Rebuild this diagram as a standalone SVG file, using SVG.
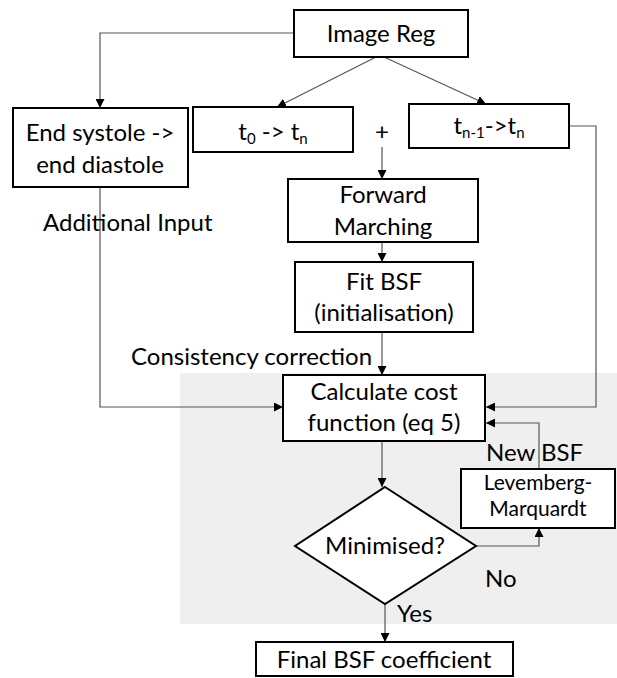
<svg xmlns="http://www.w3.org/2000/svg" width="617" height="678" viewBox="0 0 617 678">
<defs>
<marker id="ah" viewBox="0 0 10 10" refX="10" refY="5" markerWidth="9" markerHeight="9" markerUnits="userSpaceOnUse" orient="auto">
<path d="M0,0 L10,5 L0,10 z" fill="#000"/>
</marker>
</defs>
<style>
.box{fill:#fff;stroke:#000;stroke-width:2}
.t{font-family:Lato,"Open Sans","Liberation Sans",sans-serif;font-size:24px;fill:#000;text-anchor:middle}
.tl{font-family:Lato,"Open Sans","Liberation Sans",sans-serif;font-size:24px;fill:#000}
.c{fill:none;stroke:#555;stroke-width:1.2}
.ca{fill:none;stroke:#555;stroke-width:1.2;marker-end:url(#ah)}
</style>
<rect x="180" y="373" width="437" height="251" fill="#efefef"/>
<g id="connectors">
<polyline class="ca" points="294,33 100,33 100,108"/>
<line class="ca" x1="376" y1="57" x2="277" y2="107"/>
<line class="ca" x1="384" y1="57" x2="486" y2="104"/>
<line class="ca" x1="382" y1="147" x2="382" y2="179"/>
<polyline class="ca" points="569,126 596,126 596,407 486,407"/>
<polyline class="ca" points="100,187 100,407 283,407"/>
<line class="ca" x1="382" y1="242" x2="382" y2="262"/>
<line class="ca" x1="382" y1="332" x2="382" y2="375"/>
<polyline class="ca" points="539,469 539,423 486,423"/>
<line class="ca" x1="382" y1="441" x2="382" y2="487"/>
<polyline class="ca" points="476,546 539,546 539,528"/>
<line class="ca" x1="385" y1="604" x2="385" y2="642"/>
<text class="tl" x="43" y="231">Additional Input</text>
<text class="tl" x="131" y="365">Consistency correction</text>
<text class="tl" x="486" y="461">New</text>
<text class="tl" x="541" y="461">BSF</text>
<text class="tl" x="485" y="587">No</text>
<text class="tl" x="397" y="622">Yes</text>
<text class="t" x="382" y="140">+</text>
</g>
<g id="image-reg">
<rect class="box" x="294" y="10" width="174" height="47"/>
<text class="t" x="381" y="42">Image Reg</text>
</g>
<g id="end-systole">
<rect class="box" x="13" y="108" width="175" height="79"/>
<text class="t" x="100" y="141">End systole -&gt;</text>
<text class="t" x="100" y="173">end diastole</text>
</g>
<g id="t0-tn">
<rect class="box" x="193" y="107" width="160" height="45"/>
<text class="t" x="273" y="140">t<tspan font-size="15" dy="4">0</tspan><tspan dy="-4"> -&gt; t</tspan><tspan font-size="15" dy="4">n</tspan></text>
</g>
<g id="tn1-tn">
<rect class="box" x="409" y="104" width="160" height="44"/>
<text class="t" x="489" y="134">t<tspan font-size="15" dy="4">n-1</tspan><tspan dy="-4">-&gt;t</tspan><tspan font-size="15" dy="4">n</tspan></text>
</g>
<g id="forward-marching">
<rect class="box" x="288" y="179" width="190" height="63"/>
<text class="t" x="383" y="203">Forward</text>
<text class="t" x="383" y="235">Marching</text>
</g>
<g id="fit-bsf">
<rect class="box" x="295" y="262" width="178" height="70"/>
<text class="t" x="384" y="290">Fit BSF</text>
<text class="t" x="384" y="321">(initialisation)</text>
</g>
<g id="calc-cost">
<rect class="box" x="283" y="375" width="202" height="66"/>
<text class="t" x="384" y="400">Calculate cost</text>
<text class="t" x="384" y="431">function (eq 5)</text>
</g>
<g id="levenberg">
<rect class="box" x="461" y="469" width="154" height="59"/>
<text class="t" x="538" y="490" font-size="21" style="font-size:21px">Levemberg-</text>
<text class="t" x="538" y="516" font-size="21" style="font-size:21px">Marquardt</text>
</g>
<g id="minimised">
<polygon class="box" points="385,487 476,546 385,604 295,546"/>
<text class="t" x="385" y="554">Minimised?</text>
</g>
<g id="final-bsf">
<rect class="box" x="256" y="642" width="257" height="34"/>
<text class="t" x="384" y="668">Final BSF coefficient</text>
</g>
</svg>
